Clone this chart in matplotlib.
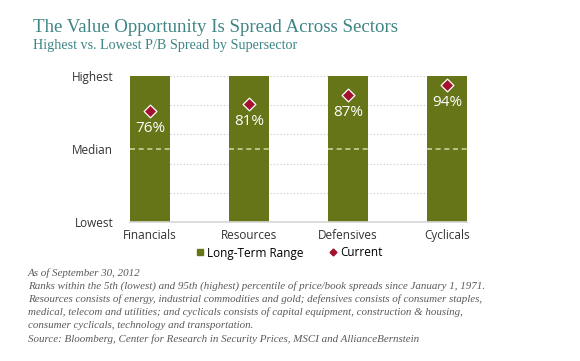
import matplotlib.pyplot as plt
from matplotlib.lines import Line2D

sectors = ["Financials", "Resources", "Defensives", "Cyclicals"]
current = [76, 81, 87, 94]
range_low = [0, 0, 0, 0]
range_high = [100, 100, 100, 100]
ytick_vals = [0, 50, 100]
ytick_labels = ["Lowest", "Median", "Highest"]

green = "#677519"
red = "#a3112e"
teal = "#3f8585"
sans = ["Open Sans", "DejaVu Sans"]
serif = ["Liberation Serif", "DejaVu Serif"]

fig = plt.figure(figsize=(5.8, 3.61), dpi=100)
ax = fig.add_axes([130 / 580, 1 - 222 / 361, 337 / 580, 146 / 361])

x = list(range(len(sectors)))
w = 0.404
heights = [h - l for h, l in zip(range_high, range_low)]
ax.bar(x, heights, bottom=range_low, width=w, color=green, zorder=2)

# dotted grid between bars
for g in [20, 40, 60, 80, 100]:
    ax.axhline(g, color="#c8c8c8", lw=0.8, ls=(0, (1, 2)), zorder=1)

# median dashes on each bar
for xi in x:
    ax.plot([xi - w / 2, xi + w / 2], [50, 50], color="#c9cf9a", lw=1.2,
            ls=(0, (3, 2.2)), zorder=3)

ax.scatter(x, current, marker="D", s=42, color=red, edgecolor="white",
           linewidth=0.9, zorder=4)
for xi, v in zip(x, current):
    ax.text(xi, v - 7.0, f"{v}%", ha="center", va="top", color="white",
            fontsize=11, family=sans, zorder=5)

ax.set_xlim(-w / 2, len(sectors) - 1 + w / 2)
ax.set_ylim(0, 100)
ax.set_xticks(x)
ax.set_xticklabels(sectors, fontsize=8.5, family=sans, color="#333333")
ax.set_yticks(ytick_vals)
ax.set_yticklabels(ytick_labels, fontsize=8.5, family=sans, color="#333333")
ax.tick_params(length=0, pad=12)
ax.tick_params(axis="x", pad=5)
for s in ["top", "right", "left"]:
    ax.spines[s].set_visible(False)
ax.spines["bottom"].set_color("#d5d5d5")
ax.spines["bottom"].set_linewidth(1.2)

handles = [
    Line2D([], [], marker="s", ls="none", color=green, markersize=4.5),
    Line2D([], [], marker="D", ls="none", color=red, markersize=3.5),
]
fig.legend(handles, ["Long-Term Range", "Current"], loc="center",
           bbox_to_anchor=(288 / 580, 1 - 253 / 361), ncol=2, frameon=False,
           prop={"family": sans, "size": 8.5}, handletextpad=0.1,
           columnspacing=2.0, handlelength=1.0)

fig.text(33 / 580, 1 - 27 / 361, "The Value Opportunity Is Spread Across Sectors",
         fontsize=13.6, family=serif, color=teal, va="center")
fig.text(33 / 580, 1 - 45 / 361, "Highest vs. Lowest P/B Spread by Supersector",
         fontsize=10.2, family=serif, color=teal, va="center")

notes = [
    "As of September 30, 2012",
    "Ranks within the 5th (lowest) and 95th (highest) percentile of price/book spreads since January 1, 1971.",
    "Resources consists of energy, industrial commodities and gold; defensives consists of consumer staples,",
    "medical, telecom and utilities; and cyclicals consists of capital equipment, construction & housing,",
    "consumer cyclicals, technology and transportation.",
    "Source: Bloomberg, Center for Research in Security Prices, MSCI and AllianceBernstein",
]
for i, line in enumerate(notes):
    fig.text(28 / 580, 1 - (273 + i * 13.2) / 361, line, fontsize=7.95,
             family=serif, style="italic", color="#5a5a5a", va="center")

fig.savefig("out.png", dpi=100)
